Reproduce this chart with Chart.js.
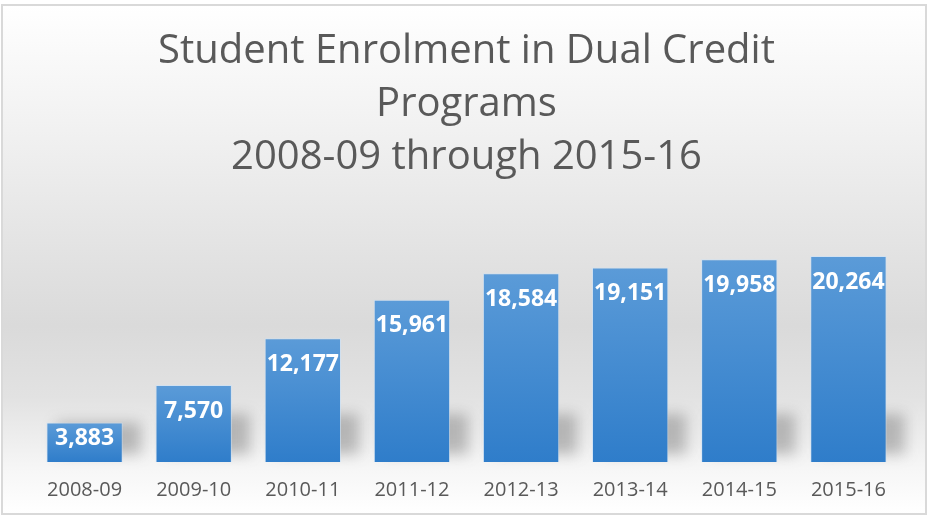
<!DOCTYPE html>
<html>
<head>
<meta charset="utf-8">
<script src="https://cdn.jsdelivr.net/npm/chart.js@4"></script>
<style>
html,body{margin:0;padding:0;background:#fff;}
#wrap{width:931px;height:518px;position:relative;}
</style>
</head>
<body>
<div id="wrap"><canvas id="c" width="931" height="518"></canvas></div>
<script>
const categories = ['2008-09','2009-10','2010-11','2011-12','2012-13','2013-14','2014-15','2015-16'];
const enrolment = [3883, 7570, 12177, 15961, 18584, 19151, 19958, 20264];
const titleLines = ['Student Enrolment in Dual Credit', 'Programs', '2008-09 through 2015-16'];

const bgPlugin = {
  id: 'bg',
  beforeDraw(chart) {
    const ctx = chart.ctx;
    ctx.save();
    ctx.fillStyle = '#ffffff';
    ctx.fillRect(0, 0, chart.width, chart.height);
    const x0 = 2, y0 = 5, x1 = 926, y1 = 514;
    const g = ctx.createLinearGradient(0, y0, 0, y1);
    g.addColorStop(0, '#ffffff');
    g.addColorStop(0.28, '#efefef');
    g.addColorStop(0.63, '#dadada');
    g.addColorStop(0.77, '#e2e2e2');
    g.addColorStop(0.91, '#f6f6f6');
    g.addColorStop(1, '#ffffff');
    ctx.fillStyle = g;
    ctx.fillRect(x0, y0, x1 - x0, y1 - y0);
    ctx.strokeStyle = '#d9d9d9';
    ctx.lineWidth = 2;
    ctx.strokeRect(x0, y0, x1 - x0, y1 - y0);
    ctx.restore();
  },
  beforeDatasetsDraw(chart) {
    const ctx = chart.ctx;
    const meta = chart.getDatasetMeta(0);
    ctx.save();
    ctx.filter = 'blur(7px)';
    ctx.fillStyle = 'rgba(80,80,80,0.35)';
    meta.data.forEach(bar => {
      const w = bar.width;
      const top = Math.max(bar.y, bar.base - 48);
      ctx.fillRect(bar.x - w / 2 + 10, top, w + 8, bar.base - top - 8);
    });
    ctx.restore();
  }
};

const labelPlugin = {
  id: 'barLabels',
  afterDatasetsDraw(chart) {
    const ctx = chart.ctx;
    const meta = chart.getDatasetMeta(0);
    ctx.save();
    ctx.font = 'bold 23px "Open Sans"';
    ctx.fillStyle = '#ffffff';
    ctx.textAlign = 'center';
    ctx.textBaseline = 'middle';
    meta.data.forEach((bar, i) => {
      const cy = Math.min(bar.y + 26, (bar.y + bar.base) / 2 - 4);
      ctx.fillText(enrolment[i].toLocaleString('en-US'), bar.x, cy);
    });
    ctx.restore();
  }
};

function barGradient(context) {
  const chart = context.chart;
  const y = chart.scales && chart.scales.y;
  if (!y || context.dataIndex === undefined) return '#4a8fd3';
  const top = y.getPixelForValue(enrolment[context.dataIndex]);
  const base = y.getPixelForValue(0);
  if (!isFinite(top) || !isFinite(base) || top === base) return '#4a8fd3';
  const g = chart.ctx.createLinearGradient(0, top, 0, base);
  g.addColorStop(0, '#5b9bd8');
  g.addColorStop(1, '#2f7dca');
  return g;
}

new Chart(document.getElementById('c'), {
  type: 'bar',
  data: {
    labels: categories,
    datasets: [{
      data: enrolment,
      backgroundColor: barGradient,
      borderColor: 'rgba(200,225,250,0.6)',
      borderWidth: 1,
      barPercentage: 0.7,
      categoryPercentage: 1.0
    }]
  },
  options: {
    responsive: false,
    animation: false,
    layout: { padding: { left: 30, right: 28, top: 0, bottom: 0 } },
    plugins: {
      legend: { display: false },
      tooltip: { enabled: false },
      title: {
        display: true,
        text: titleLines,
        color: '#595959',
        font: { family: 'Open Sans', size: 40, weight: 'normal', lineHeight: 1.325 },
        padding: { top: 25, bottom: 24 }
      }
    },
    scales: {
      x: {
        grid: { display: false, drawTicks: false },
        border: { display: false },
        ticks: {
          color: '#595959',
          font: { family: 'Open Sans', size: 20 },
          padding: 16,
          maxRotation: 0
        }
      },
      y: {
        display: false,
        min: 0,
        max: 25000
      }
    }
  },
  plugins: [bgPlugin, labelPlugin]
});
</script>
</body>
</html>
